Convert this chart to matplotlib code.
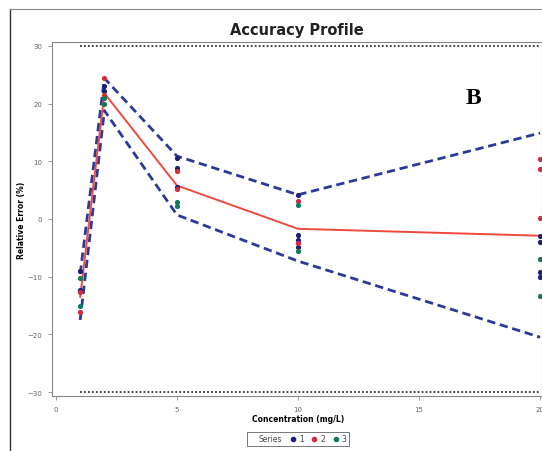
import matplotlib
matplotlib.use("Agg")
import matplotlib.pyplot as plt
from matplotlib.lines import Line2D

conc = [1, 2, 5, 10, 20]
mean_bias = [-13.5, 21.8, 5.8, -1.7, -2.9]
upper_tol = [-9.5, 24.4, 10.9, 4.2, 14.9]
lower_tol = [-17.5, 18.8, 0.7, -7.3, -20.5]
acc_limit = 30
limit_x = [1, 20]

series1 = {1: [-9.0, -12.3], 2: [23.0, 22.2], 5: [10.6, 8.8, 5.6],
           10: [4.2, -2.8, -3.6, -4.8], 20: [-3.0, -4.0, -9.2, -10.0]}
series2 = {1: [-12.6, -16.2], 2: [24.5, 21.5], 5: [8.3, 5.2],
           10: [3.2, -4.2], 20: [10.4, 8.7, 0.2]}
series3 = {1: [-10.3, -15.0], 2: [20.9, 20.0], 5: [2.9, 2.2],
           10: [2.4, -5.5], 20: [-7.0, -13.3]}
series_labels = ["1", "2", "3"]
series_colors = ["#1c1f78", "#d42a3c", "#0e7a58"]

fig = plt.figure(figsize=(5.42, 4.52), dpi=100)
ax = fig.add_axes([52/542, 55/452, 490/542, 354/452])

blue = "#2b3a9a"
ax.plot(conc, upper_tol, color=blue, lw=2.0, ls=(0, (3.0, 1.7)), zorder=3)
ax.plot(conc, lower_tol, color=blue, lw=2.0, ls=(0, (3.0, 1.7)), zorder=3)
ax.plot(conc, mean_bias, color="#ef4a40", lw=1.4, zorder=4)
for y in (acc_limit, -acc_limit):
    ax.plot(limit_x, [y, y], color="#333333", lw=1.3, ls=(0, (1, 1.2)), zorder=2)

for data, col in zip([series1, series2, series3], series_colors):
    xs, ys = [], []
    for c, vals in data.items():
        xs += [c] * len(vals)
        ys += vals
    ax.plot(xs, ys, ls="none", marker="o", ms=2.7, color=col, mec=col, zorder=5)

ax.set_xlim(-0.165, 20.08)
ax.set_ylim(-30.69, 30.69)
ax.set_xticks([0, 5, 10, 15, 20])
ax.set_yticks([-30, -20, -10, 0, 10, 20, 30])
ax.tick_params(direction="out", length=3, width=0.6, colors="#888888",
               labelsize=5, labelcolor="#666666", pad=4)
for s in ax.spines.values():
    s.set_color("#888888")
    s.set_linewidth(0.8)

ax.set_title("Accuracy Profile", fontsize=10.5, fontweight="bold", color="#222222", pad=6)
fig.text(298/542, 1 - 419/452, "Concentration (mg/L)", fontsize=5.5,
         fontweight="bold", ha="center", va="center")
fig.text(22/542, 1 - 220/452, "Relative Error (%)", fontsize=5.5,
         fontweight="bold", ha="center", va="center", rotation=90)

fig.text(473/542, 1 - 98/452, "B", fontsize=17, fontweight="bold",
         family="Liberation Serif", ha="center", va="center")

handles = [Line2D([], [], ls="none", marker=None)]
for col in series_colors:
    handles.append(Line2D([], [], ls="none", marker="o", ms=3, color=col))
leg = fig.legend(handles, ["Series"] + series_labels, ncol=4,
                 loc="center", bbox_to_anchor=(298/542, 1 - 440/452),
                 fontsize=5.5, frameon=True, fancybox=False, edgecolor="#555555",
                 handlelength=0.8, handletextpad=0.4, columnspacing=1.0,
                 borderpad=0.3)
leg.get_frame().set_linewidth(0.7)
for t in leg.get_texts():
    t.set_color("#444444")

# outer frame lines
fig.add_artist(Line2D([10/542, 10/542], [0, 1 - 10/452], transform=fig.transFigure,
                      color="#333333", lw=1.0))
fig.add_artist(Line2D([10/542, 1], [1 - 10/452, 1 - 10/452], transform=fig.transFigure,
                      color="#888888", lw=0.8))

fig.savefig("out.png", dpi=100)
